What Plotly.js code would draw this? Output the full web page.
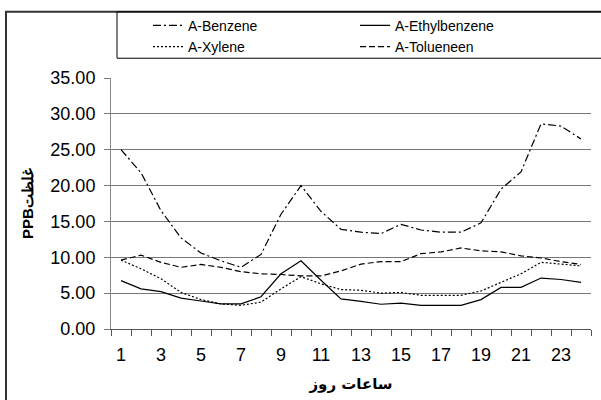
<!DOCTYPE html>
<html>
<head>
<meta charset="utf-8">
<script src="https://cdn.plot.ly/plotly-3.0.1.min.js"></script>
<style>html,body{margin:0;padding:0;background:#fff;}#chart{width:601px;height:400px;}</style>
</head>
<body>
<div id="chart"></div>
<script>
// Data
var hours = [1,2,3,4,5,6,7,8,9,10,11,12,13,14,15,16,17,18,19,20,21,22,23,24];
var benzene = [25.0,21.8,16.5,12.7,10.6,9.5,8.6,10.4,16.0,20.0,16.4,13.9,13.5,13.3,14.6,13.8,13.5,13.5,14.8,19.5,21.9,28.6,28.3,26.5];
var ethylbenzene = [6.75,5.6,5.2,4.3,3.9,3.5,3.5,4.5,7.7,9.5,6.8,4.2,3.85,3.45,3.6,3.3,3.3,3.3,4.1,5.8,5.8,7.1,6.9,6.5];
var xylene = [9.6,8.4,7.0,5.1,4.1,3.5,3.3,3.75,5.6,7.3,6.3,5.5,5.4,5.0,5.1,4.7,4.7,4.7,5.3,6.5,7.7,9.3,9.1,8.8];
var toluene = [9.6,10.3,9.3,8.6,9.0,8.6,8.0,7.7,7.6,7.4,7.4,8.1,9.05,9.4,9.4,10.5,10.75,11.3,10.9,10.75,10.2,9.9,9.4,9.0];
var seriesNames = ['A-Benzene','A-Ethylbenzene','A-Xylene','A-Tolueneen'];
var xTickVals = [1,3,5,7,9,11,13,15,17,19,21,23];
var yTickVals = [0,5,10,15,20,25,30,35];
var yTickText = ['0.00','5.00','10.00','15.00','20.00','25.00','30.00','35.00'];
var xTitle = 'ساعات روز';
var yTitle = 'PPBغلظت';

var W = 601, H = 400;
var L = 111, R = 10, T = 75, B = 71;
var pw = W - L - R, ph = H - T - B;
function px2x(p){ return (p - L) / pw; }
function py2y(p){ return (H - B - p) / ph; }

function tr(y, name, dash){
  return {x: hours, y: y, name: name, type: 'scatter', mode: 'lines',
          line: {color: '#000', width: 1.2, dash: dash}};
}
var data = [
  tr(benzene, seriesNames[0], '8px,3px,2px,3px'),
  tr(ethylbenzene, seriesNames[1], 'solid'),
  tr(xylene, seriesNames[2], '2px,2px'),
  tr(toluene, seriesNames[3], '6px,3px')
];

var layout = {
  width: W, height: H,
  margin: {l: L, r: R, t: T, b: B, pad: 0},
  paper_bgcolor: '#fff', plot_bgcolor: '#fff',
  font: {family: 'Liberation Sans, Arial, sans-serif', color: '#000'},
  showlegend: true,
  legend: {orientation: 'h', x: px2x(148), xanchor: 'left', y: py2y(6), yanchor: 'top',
           entrywidth: 162, entrywidthmode: 'pixels', bgcolor: 'rgba(0,0,0,0)', borderwidth: 0,
           font: {size: 14, family: 'Liberation Sans, Arial, sans-serif'}, traceorder: 'normal'},
  xaxis: {range: [0.5, 24.5], tickmode: 'array', tickvals: xTickVals, ticktext: xTickVals.map(String),
          ticks: '', showgrid: false, zeroline: false, showline: true, linecolor: '#555', linewidth: 1,
          tickfont: {size: 18}, ticklabelstandoff: 9,
          minor: {ticks: 'outside', tick0: 0.5, dtick: 1, ticklen: 6, tickcolor: '#555', showgrid: false},
          title: {text: xTitle, font: {size: 15, family: 'DejaVu Sans, sans-serif', weight: 'bold'}, standoff: 14}},
  yaxis: {range: [0, 35], tickmode: 'array', tickvals: yTickVals, ticktext: yTickText,
          ticks: 'outside', ticklen: 6, tickcolor: '#777', showgrid: true, gridcolor: '#777', gridwidth: 1,
          zeroline: false, showline: true, linecolor: '#888', linewidth: 1,
          tickfont: {size: 18}, ticklabelstandoff: 5,
          title: {text: yTitle, font: {size: 15, family: 'Liberation Sans, Arial, sans-serif', weight: 'bold'}, standoff: 13}},
  shapes: [
    {type: 'rect', xref: 'paper', yref: 'paper', x0: px2x(6), x1: px2x(620), y0: py2y(420), y1: py2y(8),
     line: {color: '#333', width: 2}, fillcolor: 'rgba(0,0,0,0)', layer: 'above'},
    {type: 'rect', xref: 'paper', yref: 'paper', x0: px2x(117), x1: px2x(620), y0: py2y(55), y1: py2y(8),
     line: {color: '#000', width: 1}, fillcolor: 'rgba(0,0,0,0)', layer: 'above'}
  ]
};

Plotly.newPlot('chart', data, layout, {displayModeBar: false, staticPlot: true});
</script>
</body>
</html>
